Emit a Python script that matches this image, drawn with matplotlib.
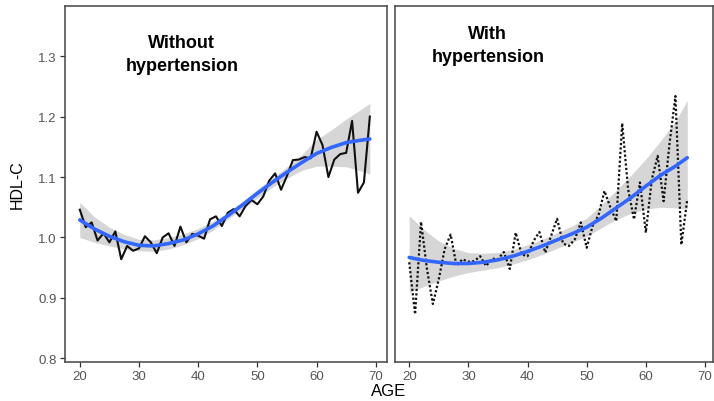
import matplotlib

matplotlib.use("Agg")
import matplotlib.pyplot as plt

plt.rcParams["font.family"] = ["Liberation Sans", "DejaVu Sans"]

# raw yearly means
ages_no = list(range(20, 70))
hdl_no = [
    1.046, 1.017, 1.025, 0.995, 1.007, 0.992, 1.010, 0.964, 0.986, 0.978,
    0.982, 1.002, 0.992, 0.974, 1.000, 1.007, 0.986, 1.018, 0.992, 1.006,
    1.003, 0.998, 1.030, 1.035, 1.019, 1.041, 1.047, 1.035, 1.052, 1.062,
    1.055, 1.068, 1.094, 1.106, 1.079, 1.102, 1.128, 1.129, 1.133, 1.131,
    1.175, 1.153, 1.100, 1.129, 1.138, 1.140, 1.193, 1.074, 1.091, 1.200,
]
ages_yes = list(range(20, 68))
hdl_yes = [
    0.959, 0.873, 1.026, 0.948, 0.890, 0.931, 0.981, 1.005, 0.953, 0.964,
    0.960, 0.961, 0.969, 0.953, 0.965, 0.964, 0.976, 0.948, 1.008, 0.972,
    0.969, 0.994, 1.009, 0.975, 1.003, 1.031, 0.990, 0.986, 0.997, 1.025,
    0.983, 1.019, 1.037, 1.077, 1.050, 1.027, 1.189, 1.080, 1.030, 1.091,
    1.008, 1.096, 1.135, 1.060, 1.155, 1.234, 0.988, 1.063,
]

# smoothed fit and confidence band
fit_age_no = [20, 22.5, 25, 27.5, 30, 32.5, 35, 37.5, 40, 42.5, 45, 47.5,
              50, 52.5, 55, 57.5, 60, 62.5, 65, 67.5, 69]
fit_no = [1.029, 1.014, 1.002, 0.993, 0.987, 0.986, 0.990, 0.996, 1.006,
          1.019, 1.036, 1.054, 1.073, 1.091, 1.108, 1.124, 1.139, 1.149,
          1.157, 1.161, 1.163]
hi_no = [1.058, 1.034, 1.017, 1.005, 0.997, 0.996, 1.000, 1.006, 1.015,
         1.027, 1.041, 1.060, 1.080, 1.098, 1.117, 1.137, 1.162, 1.178,
         1.196, 1.212, 1.222]
lo_no = [1.000, 0.992, 0.986, 0.981, 0.978, 0.977, 0.981, 0.988, 0.998,
         1.012, 1.030, 1.048, 1.065, 1.083, 1.098, 1.111, 1.118, 1.118,
         1.117, 1.110, 1.105]

fit_age_yes = [20, 22.5, 25, 27.5, 30, 32.5, 35, 37.5, 40, 42.5, 45, 47.5,
               50, 52.5, 55, 57.5, 60, 62.5, 65, 67]
fit_yes = [0.967, 0.962, 0.959, 0.957, 0.957, 0.959, 0.963, 0.969, 0.977,
           0.986, 0.996, 1.006, 1.017, 1.032, 1.049, 1.066, 1.085, 1.103,
           1.118, 1.132]
hi_yes = [1.036, 1.013, 0.994, 0.982, 0.975, 0.974, 0.975, 0.980, 0.988,
          0.997, 1.008, 1.019, 1.032, 1.054, 1.078, 1.103, 1.130, 1.160,
          1.192, 1.227]
lo_yes = [0.909, 0.919, 0.928, 0.936, 0.942, 0.946, 0.950, 0.956, 0.963,
          0.972, 0.982, 0.992, 1.002, 1.016, 1.030, 1.040, 1.047, 1.050,
          1.049, 1.047]

y_ticks = [0.8, 0.9, 1.0, 1.1, 1.2, 1.3]
x_ticks = [20, 30, 40, 50, 60, 70]

W, H = 714, 402
fig = plt.figure(figsize=(W / 100, H / 100), dpi=100)
ax1 = fig.add_axes([65 / W, 39 / H, 322 / W, 356 / H])
ax2 = fig.add_axes([395 / W, 39 / H, 318 / W, 356 / H])


def style(ax, show_y):
    for s in ax.spines.values():
        s.set_color("#444444")
        s.set_linewidth(1.1)
    ax.tick_params(colors="#333333", labelcolor="#555555", labelsize=9.5,
                   length=3.8, width=0.9, pad=2)
    ax.set_ylim(0.794, 1.383)
    ax.set_yticks(y_ticks)
    ax.set_xticks(x_ticks)
    if not show_y:
        ax.tick_params(axis="y", left=False, labelleft=False)


ax1.fill_between(fit_age_no, lo_no, hi_no, color="#d6d6d6", lw=0)
ax1.plot(ages_no, hdl_no, color="#111111", lw=1.5)
ax1.plot(fit_age_no, fit_no, color="#3366ff", lw=2.6, solid_capstyle="round")
style(ax1, True)
ax1.set_xlim(17.5, 71.9)

ax2.fill_between(fit_age_yes, lo_yes, hi_yes, color="#d6d6d6", lw=0)
ax2.plot(ages_yes, hdl_yes, color="#111111", lw=1.6, linestyle=(0, (1, 1)))
ax2.plot(fit_age_yes, fit_yes, color="#3366ff", lw=2.6, solid_capstyle="round")
style(ax2, False)
ax2.set_xlim(17.6, 71.35)

ax1.text(0.363, 0.864, "Without\nhypertension", transform=ax1.transAxes,
         ha="center", va="center", fontsize=13, fontweight="bold",
         linespacing=1.45)
ax2.text(0.292, 0.891, "With\nhypertension", transform=ax2.transAxes,
         ha="center", va="center", fontsize=13, fontweight="bold",
         linespacing=1.45)

fig.text(17 / W, 1 - 185 / H, "HDL-C", rotation=90, ha="center", va="center",
         fontsize=11.5)
fig.text(389 / W, 1 - 392 / H, "AGE", ha="center", va="center", fontsize=12)

fig.savefig("out.png", dpi=100)
